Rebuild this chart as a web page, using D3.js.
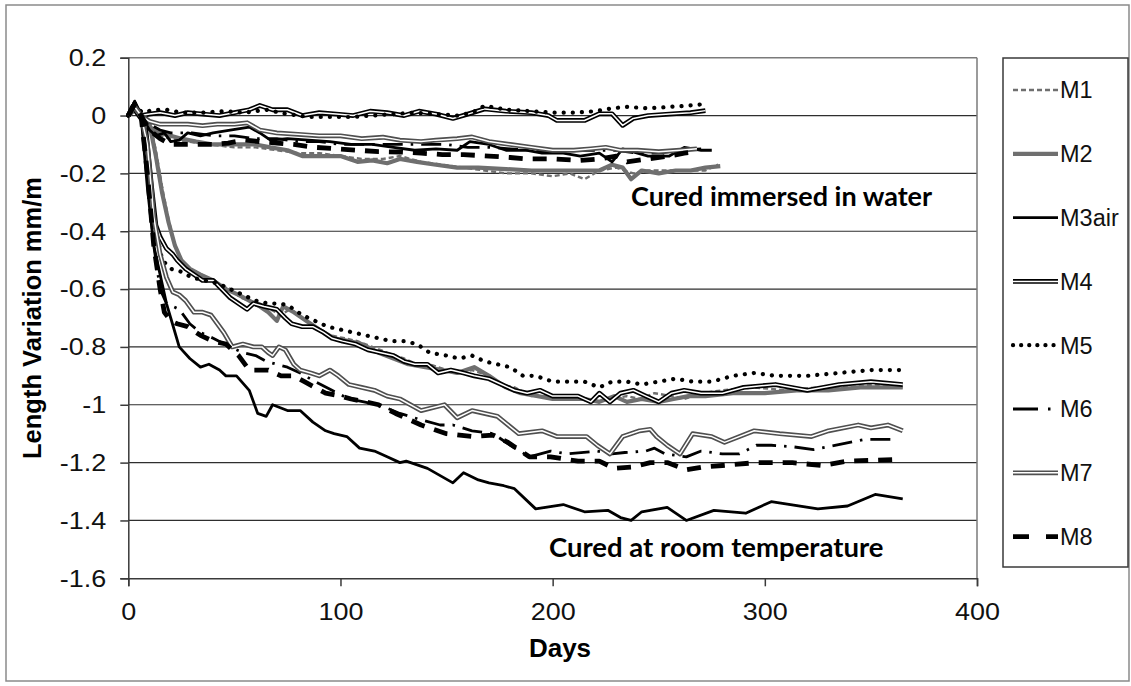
<!DOCTYPE html>
<html><head><meta charset="utf-8">
<script src="https://cdn.jsdelivr.net/npm/d3@7"></script>
<style>
body{margin:0;background:#fff;}
svg{display:block;font-family:"Liberation Sans",Arial,sans-serif;}
</style></head>
<body><svg id="chart" width="1131" height="686"></svg>
<script>
// ---------- DATA ----------
const seriesNames = ["M1","M2","M3air","M4","M5","M6","M7","M8"];
const xTicks = [0,100,200,300,400];
const yTicks = [0.2,0,-0.2,-0.4,-0.6,-0.8,-1,-1.2,-1.4,-1.6];
const yTickLabels = ["0.2","0","-0.2","-0.4","-0.6","-0.8","-1","-1.2","-1.4","-1.6"];
const annotations = ["Cured immersed in water","Cured at room temperature"];

// water-cured curves [day, mm/m]
const M1_water = [[0,0],[3,0.03],[6,0],[10,-0.04],[15,-0.07],[20,-0.08],[28,-0.09],[38,-0.1],[50,-0.11],[60,-0.11],[70,-0.12],[80,-0.13],[90,-0.13],[100,-0.14],[110,-0.15],[120,-0.15],[128,-0.14],[138,-0.16],[148,-0.17],[158,-0.18],[168,-0.19],[178,-0.2],[190,-0.2],[200,-0.21],[208,-0.2],[215,-0.22],[222,-0.19],[230,-0.18],[238,-0.2],[245,-0.19],[255,-0.19],[265,-0.19],[272,-0.19],[278,-0.17]];
const M2_water = [[0,0],[3,0.02],[6,0],[10,-0.04],[15,-0.06],[20,-0.07],[25,-0.08],[32,-0.09],[40,-0.1],[50,-0.1],[60,-0.1],[67,-0.11],[75,-0.12],[82,-0.14],[90,-0.14],[100,-0.14],[108,-0.16],[115,-0.155],[122,-0.165],[128,-0.15],[136,-0.16],[145,-0.17],[155,-0.18],[165,-0.18],[178,-0.185],[190,-0.19],[200,-0.19],[208,-0.19],[215,-0.19],[222,-0.19],[228,-0.17],[233,-0.18],[237,-0.22],[242,-0.19],[250,-0.2],[258,-0.19],[265,-0.19],[272,-0.18],[279,-0.175]];
const M3_water = [[0,0],[3,0.04],[6,0],[10,-0.05],[13,-0.07],[17,-0.06],[20,-0.09],[24,-0.085],[28,-0.06],[34,-0.07],[40,-0.06],[48,-0.05],[57,-0.04],[62,-0.06],[67,-0.085],[75,-0.08],[85,-0.085],[95,-0.09],[105,-0.1],[115,-0.1],[125,-0.11],[135,-0.12],[145,-0.115],[155,-0.12],[161,-0.09],[170,-0.1],[178,-0.12],[188,-0.12],[195,-0.13],[205,-0.13],[213,-0.14],[222,-0.13],[228,-0.16],[233,-0.115],[240,-0.13],[245,-0.14],[255,-0.14],[262,-0.11],[270,-0.12],[275,-0.12]];
const M4_water = [[0,0],[3,0.04],[6,0],[10,0.005],[15,0.01],[22,0],[28,0.01],[35,0.005],[43,0],[50,0.01],[57,0.02],[62,0.035],[68,0.02],[75,0.02],[82,0],[90,0.01],[98,0.005],[106,0],[114,0.015],[122,0.01],[130,0],[137,0.015],[145,0.005],[153,-0.01],[160,0.005],[168,0.023],[178,0.015],[190,0.01],[198,0],[202,-0.017],[215,-0.017],[222,0.006],[228,0.006],[233,-0.034],[238,-0.01],[245,0],[255,0.005],[265,0.01],[272,0.017]];
const M5_water = [[0,0],[3,0.03],[7,0.01],[12,0.02],[18,0.02],[25,0.01],[35,0.01],[45,0.015],[55,0.01],[65,0.02],[75,0.005],[85,-0.005],[95,-0.005],[105,-0.005],[115,0],[125,0.005],[135,0.01],[145,0.005],[155,0],[162,0.01],[168,0.034],[178,0.02],[190,0.015],[200,0.01],[210,0.01],[220,0.015],[228,0.025],[235,0.03],[245,0.025],[255,0.03],[265,0.035],[272,0.04]];
const M6_water = [[0,0],[3,0.03],[6,0],[10,-0.03],[15,-0.05],[20,-0.06],[30,-0.06],[40,-0.07],[50,-0.07],[60,-0.08],[70,-0.08],[80,-0.09],[90,-0.09],[100,-0.1],[110,-0.1],[120,-0.1],[130,-0.1],[140,-0.1],[150,-0.1],[160,-0.11],[170,-0.11],[180,-0.115],[190,-0.12],[200,-0.125],[210,-0.12],[220,-0.12],[230,-0.12],[240,-0.13],[250,-0.13],[260,-0.12],[270,-0.115]];
const M7_water = [[0,0],[3,0.03],[6,0],[10,-0.02],[15,-0.03],[20,-0.03],[28,-0.03],[35,-0.035],[42,-0.03],[50,-0.03],[56,-0.025],[62,-0.05],[70,-0.06],[80,-0.065],[90,-0.07],[100,-0.07],[110,-0.08],[120,-0.075],[128,-0.085],[138,-0.09],[145,-0.085],[155,-0.08],[162,-0.074],[170,-0.09],[180,-0.1],[190,-0.11],[200,-0.12],[210,-0.12],[218,-0.115],[225,-0.11],[232,-0.12],[240,-0.12],[250,-0.125],[260,-0.12],[268,-0.115]];
const M8_water = [[0,0],[3,0.04],[6,0],[10,-0.05],[15,-0.08],[20,-0.1],[26,-0.1],[33,-0.1],[40,-0.1],[47,-0.095],[55,-0.085],[62,-0.09],[70,-0.095],[78,-0.1],[88,-0.11],[98,-0.115],[108,-0.12],[118,-0.125],[128,-0.126],[138,-0.13],[148,-0.135],[158,-0.135],[170,-0.14],[180,-0.145],[188,-0.15],[200,-0.15],[213,-0.155],[222,-0.15],[230,-0.14],[235,-0.16],[245,-0.15],[255,-0.14],[262,-0.13],[268,-0.125]];

// room-temperature (air) curves [day, mm/m]
const M1_air = [[0,0],[3,0.03],[6,-0.01],[10,-0.02],[13,-0.12],[16,-0.25],[19,-0.36],[22,-0.45],[25,-0.5],[28,-0.53],[32,-0.54],[37,-0.56],[42,-0.58],[48,-0.6],[53,-0.63],[57,-0.64],[62,-0.65],[67,-0.67],[72,-0.69],[76,-0.67],[82,-0.7],[88,-0.73],[95,-0.76],[102,-0.77],[108,-0.78],[115,-0.8],[122,-0.82],[130,-0.84],[136,-0.86],[142,-0.86],[150,-0.88],[156,-0.89],[162,-0.88],[170,-0.9],[176,-0.93],[182,-0.94],[190,-0.97],[197,-0.97],[205,-0.97],[212,-0.98],[220,-0.99],[227,-0.98],[235,-0.97],[241,-0.98],[248,-0.96],[256,-0.97],[262,-0.98],[270,-0.96],[280,-0.95],[295,-0.94],[310,-0.95],[325,-0.94],[340,-0.94],[352,-0.93],[365,-0.94]];
const M2_air = [[0,0],[3,0.02],[7,0],[10,-0.03],[13,-0.14],[16,-0.27],[19,-0.37],[22,-0.45],[25,-0.5],[29,-0.53],[34,-0.55],[40,-0.57],[46,-0.6],[52,-0.62],[57,-0.64],[62,-0.66],[66,-0.68],[70,-0.71],[73,-0.66],[78,-0.68],[84,-0.71],[90,-0.74],[97,-0.77],[104,-0.78],[110,-0.79],[118,-0.82],[125,-0.84],[132,-0.86],[140,-0.87],[148,-0.88],[155,-0.89],[163,-0.87],[170,-0.9],[178,-0.94],[185,-0.96],[193,-0.97],[200,-0.98],[208,-0.98],[215,-0.98],[222,-0.99],[229,-0.97],[235,-0.99],[242,-0.98],[250,-0.99],[257,-0.98],[264,-0.97],[272,-0.97],[285,-0.96],[300,-0.96],[315,-0.95],[330,-0.95],[345,-0.94],[365,-0.94]];
const M3_air = [[0,0],[3,0.05],[6,0],[9,-0.25],[12,-0.45],[15,-0.55],[18,-0.65],[20,-0.7],[24,-0.8],[29,-0.84],[34,-0.87],[38,-0.86],[43,-0.88],[46,-0.9],[51,-0.9],[57,-0.95],[61,-1.03],[65,-1.04],[68,-1.0],[75,-1.02],[81,-1.02],[87,-1.06],[93,-1.09],[97,-1.1],[103,-1.11],[109,-1.15],[116,-1.16],[122,-1.18],[128,-1.2],[131,-1.195],[141,-1.22],[153,-1.27],[158,-1.235],[165,-1.26],[170,-1.27],[177,-1.28],[182,-1.29],[192,-1.36],[205,-1.345],[215,-1.37],[226,-1.365],[232,-1.39],[237,-1.4],[242,-1.37],[254,-1.355],[263,-1.4],[276,-1.365],[291,-1.375],[303,-1.335],[325,-1.36],[339,-1.35],[352,-1.31],[365,-1.325]];
const M4_air = [[0,0],[2,0.03],[5,0],[8,-0.03],[11,-0.25],[13,-0.38],[15,-0.42],[18,-0.46],[21,-0.48],[23,-0.5],[27,-0.53],[31,-0.55],[35,-0.57],[40,-0.57],[44,-0.6],[48,-0.63],[52,-0.65],[56,-0.67],[59,-0.65],[64,-0.66],[70,-0.67],[74,-0.7],[77,-0.72],[82,-0.73],[87,-0.73],[92,-0.75],[96,-0.77],[101,-0.78],[107,-0.79],[113,-0.81],[119,-0.82],[125,-0.83],[130,-0.85],[135,-0.86],[141,-0.86],[146,-0.89],[152,-0.88],[158,-0.89],[163,-0.9],[170,-0.91],[176,-0.93],[182,-0.95],[188,-0.96],[194,-0.95],[200,-0.97],[206,-0.97],[212,-0.97],[218,-0.99],[222,-0.96],[227,-0.99],[232,-0.96],[238,-0.95],[244,-0.97],[250,-0.99],[256,-0.96],[262,-0.95],[270,-0.96],[280,-0.96],[290,-0.94],[305,-0.93],[320,-0.95],[335,-0.93],[350,-0.92],[365,-0.93]];
const M5_air = [[0,0],[3,0.03],[7,0],[10,-0.2],[13,-0.4],[16,-0.5],[20,-0.53],[25,-0.54],[30,-0.56],[36,-0.57],[42,-0.58],[48,-0.6],[54,-0.62],[60,-0.64],[66,-0.65],[72,-0.65],[76,-0.66],[82,-0.69],[88,-0.71],[94,-0.73],[100,-0.74],[106,-0.75],[112,-0.76],[118,-0.77],[124,-0.78],[130,-0.78],[136,-0.79],[142,-0.82],[150,-0.83],[156,-0.84],[162,-0.83],[168,-0.85],[174,-0.86],[180,-0.87],[186,-0.9],[192,-0.9],[200,-0.92],[208,-0.92],[215,-0.92],[222,-0.94],[228,-0.92],[235,-0.92],[242,-0.93],[250,-0.92],[258,-0.91],[266,-0.92],[275,-0.92],[285,-0.9],[295,-0.89],[305,-0.9],[320,-0.9],[335,-0.89],[350,-0.88],[365,-0.88]];
const M6_air = [[0,0],[3,0.03],[6,0],[9,-0.2],[12,-0.45],[15,-0.6],[18,-0.65],[24,-0.67],[29,-0.72],[34,-0.75],[40,-0.77],[48,-0.8],[54,-0.82],[60,-0.83],[65,-0.85],[70,-0.86],[75,-0.87],[81,-0.89],[88,-0.92],[96,-0.95],[104,-0.98],[111,-0.99],[118,-1.0],[128,-1.03],[137,-1.05],[147,-1.07],[153,-1.07],[162,-1.09],[172,-1.1],[180,-1.14],[189,-1.18],[199,-1.16],[207,-1.17],[221,-1.16],[228,-1.17],[234,-1.165],[244,-1.16],[248,-1.15],[253,-1.17],[263,-1.18],[270,-1.16],[280,-1.17],[288,-1.17],[296,-1.14],[303,-1.14],[313,-1.145],[323,-1.155],[330,-1.145],[347,-1.12],[360,-1.12]];
const M7_air = [[0,0],[3,0.03],[6,0],[9,-0.1],[12,-0.35],[15,-0.48],[18,-0.56],[21,-0.61],[24,-0.62],[27,-0.64],[31,-0.68],[35,-0.68],[39,-0.69],[42,-0.72],[45,-0.75],[49,-0.8],[54,-0.79],[59,-0.8],[63,-0.8],[66,-0.82],[68,-0.83],[71,-0.8],[74,-0.81],[78,-0.86],[81,-0.88],[86,-0.89],[90,-0.9],[95,-0.88],[99,-0.9],[104,-0.93],[110,-0.94],[116,-0.95],[122,-0.97],[128,-0.98],[138,-1.02],[149,-1.0],[155,-1.045],[162,-1.02],[174,-1.04],[184,-1.1],[195,-1.09],[202,-1.11],[216,-1.11],[221,-1.14],[227,-1.17],[233,-1.11],[241,-1.09],[246,-1.085],[249,-1.11],[254,-1.14],[260,-1.17],[266,-1.1],[275,-1.11],[281,-1.13],[295,-1.09],[307,-1.1],[322,-1.11],[330,-1.09],[344,-1.07],[350,-1.08],[358,-1.07],[365,-1.09]];
const M8_air = [[0,0],[3,0.04],[6,0],[9,-0.2],[12,-0.45],[15,-0.6],[17,-0.68],[20,-0.71],[23,-0.72],[28,-0.73],[34,-0.76],[40,-0.78],[46,-0.79],[52,-0.83],[57,-0.88],[62,-0.88],[66,-0.88],[72,-0.9],[78,-0.9],[83,-0.92],[88,-0.94],[93,-0.96],[100,-0.97],[105,-0.98],[112,-0.99],[118,-1.0],[126,-1.03],[138,-1.07],[150,-1.1],[162,-1.11],[172,-1.105],[179,-1.13],[189,-1.18],[199,-1.18],[212,-1.195],[222,-1.195],[229,-1.22],[238,-1.215],[246,-1.2],[254,-1.2],[263,-1.225],[271,-1.215],[280,-1.21],[296,-1.2],[313,-1.2],[327,-1.21],[339,-1.195],[360,-1.19]];

const waterCurves = [M1_water,M2_water,M3_water,M4_water,M5_water,M6_water,M7_water,M8_water];
const airCurves = [M1_air,M2_air,M3_air,M4_air,M5_air,M6_air,M7_air,M8_air];

// ---------- STYLES ----------
const styles = [
  [{stroke:"#6f6f6f", width:2.4, dash:"5,3", cap:"butt"}],
  [{stroke:"#6f6f6f", width:4.2, dash:null, cap:"butt"}],
  [{stroke:"#000", width:2.8, dash:null, cap:"butt"}],
  [{stroke:"#000", width:4.8, dash:null, cap:"butt"},{stroke:"#fff", width:1.5, dash:null, cap:"butt"}],
  [{stroke:"#000", width:4.2, dash:"0.1,9", cap:"round"}],
  [{stroke:"#000", width:2.8, dash:"20,8,2.5,8", cap:"butt"}],
  [{stroke:"#4f4f4f", width:4.8, dash:null, cap:"butt"},{stroke:"#fff", width:1.5, dash:null, cap:"butt"}],
  [{stroke:"#000", width:4.8, dash:"14,10", cap:"butt"}]
];
const legendDash = ["5,3",null,null,null,"0.1,8","25,10,2.5,20",null,"16,17"];

// ---------- CHART ----------
const svg = d3.select("#chart");
const L = 128.3, R = 977, T = 57.7, B = 578.3;
const x = d3.scaleLinear().domain([0,400]).range([L,R]);
const y = d3.scaleLinear().domain([-1.6,0.2]).range([B,T]);
const stretch = 1.1;

svg.append("rect").attr("x",6).attr("y",5).attr("width",1123).attr("height",676)
  .attr("fill","#fff").attr("stroke","#8a8a8a").attr("stroke-width",1.5);

// grid
svg.append("g").selectAll("line").data(yTicks.filter(v=>v!==-1.6 && v!==0.2)).join("line")
  .attr("x1",L).attr("x2",R).attr("y1",d=>y(d)).attr("y2",d=>y(d))
  .attr("stroke","#2e2e2e").attr("stroke-width",1.2);
// plot frame top/right
svg.append("line").attr("x1",L).attr("x2",R).attr("y1",T).attr("y2",T).attr("stroke","#7a7a7a").attr("stroke-width",1.5);
svg.append("line").attr("x1",R).attr("x2",R).attr("y1",T).attr("y2",B).attr("stroke","#7a7a7a").attr("stroke-width",1.5);

// axes
const yAxis = d3.axisLeft(y).tickValues(yTicks).tickSize(8).tickPadding(14)
  .tickFormat((d,i)=>yTickLabels[i]);
const gy = svg.append("g").attr("transform",`translate(${L},0)`).call(yAxis);
const xAxis = d3.axisBottom(x).tickValues(xTicks).tickSize(8).tickPadding(16).tickFormat(d3.format("d"));
const gx = svg.append("g").attr("transform",`translate(0,${B})`).call(xAxis);
[gx,gy].forEach(g=>{
  g.select(".domain").attr("stroke","#3a3a3a").attr("stroke-width",1.5);
  g.selectAll(".tick line").attr("stroke","#3a3a3a").attr("stroke-width",1.5);
  g.selectAll("text").attr("font-size",24.5).attr("fill","#111").attr("font-family","'Liberation Sans',Arial,sans-serif");
});
// slightly wide glyphs as in the reference
gy.selectAll(".tick text").attr("x",-22/stretch).attr("transform",`scale(${stretch},1)`);
gx.selectAll(".tick text").attr("transform",`scale(${stretch},1)`);

// lines
const line = d3.line().x(d=>x(d[0])).y(d=>y(d[1]));
function drawPath(g, data, st){
  st.forEach(s=>{
    g.append("path").attr("d",line(data)).attr("fill","none")
      .attr("stroke",s.stroke).attr("stroke-width",s.width)
      .attr("stroke-dasharray",s.dash).attr("stroke-linecap",s.cap)
      .attr("stroke-linejoin","round");
  });
}
const gl = svg.append("g");
seriesNames.forEach((n,i)=>{
  drawPath(gl, waterCurves[i], styles[i]);
  drawPath(gl, airCurves[i], styles[i]);
});

// axis titles
svg.append("text").attr("x",560).attr("y",657).attr("text-anchor","middle")
  .attr("font-size",26).attr("font-weight","bold").text("Days");
svg.append("text").attr("transform",`translate(41,${(T+B)/2}) rotate(-90)`).attr("text-anchor","middle")
  .attr("font-size",25.5).attr("font-weight","bold").text("Length Variation mm/m");

// annotations
svg.append("text").attr("x",631).attr("y",206).attr("font-family","Lato,'Open Sans',sans-serif")
  .attr("font-size",27).attr("font-weight","bold").text(annotations[0]);
svg.append("text").attr("x",549).attr("y",557).attr("font-family","Lato,'Open Sans',sans-serif")
  .attr("font-size",27.5).attr("font-weight","bold").text(annotations[1]);

// legend
const lg = svg.append("g");
lg.append("rect").attr("x",1003).attr("y",58).attr("width",125).attr("height",509)
  .attr("fill","#fff").attr("stroke","#3a3a3a").attr("stroke-width",1.5);
seriesNames.forEach((n,i)=>{
  const yy = 90 + i*63.8;
  styles[i].forEach(s=>{
    lg.append("line").attr("x1",1013).attr("x2",1058).attr("y1",yy).attr("y2",yy)
      .attr("stroke",s.stroke).attr("stroke-width",s.width)
      .attr("stroke-dasharray",legendDash[i]).attr("stroke-linecap",s.cap);
  });
  lg.append("text").attr("x",1060).attr("y",yy).attr("dy","0.36em")
    .attr("font-size",23.5).attr("fill","#111").text(n);
});
</script></body></html>
